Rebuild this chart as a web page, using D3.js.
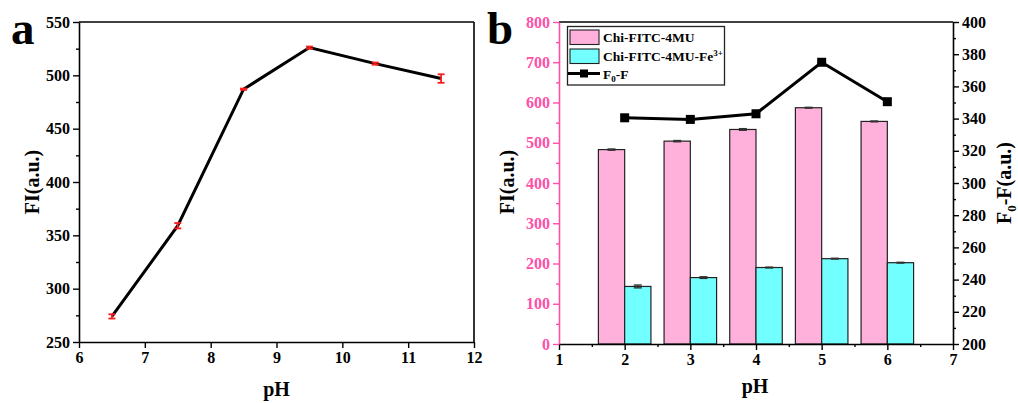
<!DOCTYPE html>
<html><head><meta charset="utf-8">
<script src="https://cdn.jsdelivr.net/npm/d3@7"></script>
<style>body{margin:0;background:#fff}svg{display:block}text{font-family:"Liberation Serif","Times New Roman",serif;font-weight:bold}</style>
</head><body><svg id="c" width="1018" height="403"></svg>
<script>
// Panel a data
const phA = [6.5, 7.5, 8.5, 9.5, 10.5, 11.5];
const fiA = [274, 359, 487, 526, 511, 497];
const errA = [2, 2.5, 0.6, 1, 1, 4];
const xTicksA = [6, 7, 8, 9, 10, 11, 12];
const yTicksA = [250, 300, 350, 400, 450, 500, 550];
// Panel b data
const phB = [2, 3, 4, 5, 6];
const fiPink = [483, 504, 533, 587, 553];
const errPink = [1.5, 1.5, 2, 1, 1];
const fiCyan = [143, 165, 190, 212, 202];
const errCyan = [3.5, 2, 1, 1, 1];
const f0f = [340.5, 339.5, 343, 375, 350.5];
const xTicksB = [1, 2, 3, 4, 5, 6, 7];
const yTicksBL = [0, 100, 200, 300, 400, 500, 600, 700, 800];
const yTicksBR = [200, 220, 240, 260, 280, 300, 320, 340, 360, 380, 400];
const seriesNames = ["Chi-FITC-4MU", "Chi-FITC-4MU-Fe", "F"];

const svg = d3.select("#c");
const PINK = "#ff4fa7";
const fmt = d3.format("d");

function styleAxis(g, color, fs) {
  g.attr("font-family", null).attr("font-size", null);
  g.selectAll("path").attr("stroke", color).attr("stroke-width", 1.6);
  g.selectAll("line").attr("stroke", color).attr("stroke-width", 1.4);
  g.selectAll("text").attr("fill", color).style("font-size", fs + "px")
    .style("font-family", '"Liberation Serif","Times New Roman",serif').style("font-weight", "bold");
}

// ---------------- Panel a ----------------
{
  const L = 79, R = 474, T = 22, B = 342;
  const x = d3.scaleLinear().domain([6, 12]).range([L, R]);
  const y = d3.scaleLinear().domain([250, 550]).range([B, T]);
  const g = svg.append("g");
  g.append("line").attr("x1", L).attr("x2", R).attr("y1", T).attr("y2", T).attr("stroke", "#000").attr("stroke-width", 1.6);
  g.append("line").attr("x1", R).attr("x2", R).attr("y1", T).attr("y2", B).attr("stroke", "#000").attr("stroke-width", 1.6);
  g.append("g").attr("transform", `translate(${L},0)`)
    .call(d3.axisLeft(y).tickValues(d3.range(275, 550, 50)).tickSize(3).tickFormat(""))
    .call(s => { s.select("path").remove(); s.selectAll("line").attr("stroke", "#000").attr("stroke-width", 1.4); });
  const gx = g.append("g").attr("transform", `translate(0,${B})`)
    .call(d3.axisBottom(x).tickValues(xTicksA).tickFormat(fmt).tickSize(6).tickPadding(4).tickSizeOuter(0));
  styleAxis(gx, "#000", 16);
  const gy = g.append("g").attr("transform", `translate(${L},0)`)
    .call(d3.axisLeft(y).tickValues(yTicksA).tickFormat(fmt).tickSize(6).tickPadding(3).tickSizeOuter(0));
  styleAxis(gy, "#000", 16);
  const line = d3.line().x((d, i) => x(phA[i])).y(d => y(d));
  g.append("path").datum(fiA).attr("d", line).attr("fill", "none").attr("stroke", "#000").attr("stroke-width", 3);
  const eb = g.append("g").attr("stroke", "#ff1a1a").attr("stroke-width", 1.8);
  fiA.forEach((v, i) => {
    const cx = x(phA[i]), y1 = y(v - errA[i]), y2 = y(v + errA[i]);
    eb.append("line").attr("x1", cx).attr("x2", cx).attr("y1", y1).attr("y2", y2);
    eb.append("line").attr("x1", cx - 3.5).attr("x2", cx + 3.5).attr("y1", y1).attr("y2", y1);
    eb.append("line").attr("x1", cx - 3.5).attr("x2", cx + 3.5).attr("y1", y2).attr("y2", y2);
  });
  g.append("text").attr("x", (L + R) / 2).attr("y", 396).attr("text-anchor", "middle").style("font-size", "20px").text("pH");
  g.append("text").attr("transform", `translate(39,182) rotate(-90)`).attr("text-anchor", "middle").style("font-size", "20px").text("FI(a.u.)");
  g.append("text").attr("x", 11).attr("y", 44).style("font-size", "47px").text("a");
}

// ---------------- Panel b ----------------
{
  const L = 559, R = 953, T = 22, B = 344;
  const x = d3.scaleLinear().domain([1, 7]).range([L, R]);
  const y = d3.scaleLinear().domain([0, 800]).range([B, T]);
  const y2 = d3.scaleLinear().domain([200, 400]).range([B, T]);
  const g = svg.append("g");
  const bw = x(1.4) - x(1);
  g.append("g").selectAll("rect").data(fiPink).join("rect")
    .attr("x", (d, i) => x(phB[i]) - bw).attr("y", d => y(d)).attr("width", bw).attr("height", d => B - y(d))
    .attr("fill", "#ffb1dc").attr("stroke", "#222").attr("stroke-width", 1.2);
  g.append("g").selectAll("rect").data(fiCyan).join("rect")
    .attr("x", (d, i) => x(phB[i])).attr("y", d => y(d)).attr("width", bw).attr("height", d => B - y(d))
    .attr("fill", "#72ffff").attr("stroke", "#222").attr("stroke-width", 1.2);
  const eb = g.append("g").attr("stroke", "#333").attr("stroke-width", 1.4);
  function ebar(cx, v, e) {
    const a = y(v - e), b = y(v + e);
    eb.append("line").attr("x1", cx).attr("x2", cx).attr("y1", a).attr("y2", b);
    eb.append("line").attr("x1", cx - 4).attr("x2", cx + 4).attr("y1", a).attr("y2", a);
    eb.append("line").attr("x1", cx - 4).attr("x2", cx + 4).attr("y1", b).attr("y2", b);
  }
  fiPink.forEach((v, i) => ebar(x(phB[i]) - bw / 2, v, errPink[i]));
  fiCyan.forEach((v, i) => ebar(x(phB[i]) + bw / 2, v, errCyan[i]));
  const line = d3.line().x((d, i) => x(phB[i])).y(d => y2(d));
  g.append("path").datum(f0f).attr("d", line).attr("fill", "none").attr("stroke", "#000").attr("stroke-width", 3);
  g.append("g").selectAll("rect").data(f0f).join("rect")
    .attr("x", (d, i) => x(phB[i]) - 4.5).attr("y", d => y2(d) - 4.5).attr("width", 9).attr("height", 9).attr("fill", "#000");
  g.append("line").attr("x1", L).attr("x2", R).attr("y1", T).attr("y2", T).attr("stroke", "#000").attr("stroke-width", 1.6);
  g.append("g").attr("transform", `translate(0,${B})`)
    .call(d3.axisBottom(x).tickValues(d3.range(1.5, 7, 1)).tickSize(3).tickFormat(""))
    .call(s => { s.select("path").remove(); s.selectAll("line").attr("stroke", "#000").attr("stroke-width", 1.4); });
  g.append("g").attr("transform", `translate(${L},0)`)
    .call(d3.axisLeft(y).tickValues(d3.range(50, 800, 100)).tickSize(3).tickFormat(""))
    .call(s => { s.select("path").remove(); s.selectAll("line").attr("stroke", PINK).attr("stroke-width", 1.4); });
  g.append("g").attr("transform", `translate(${R},0)`)
    .call(d3.axisRight(y2).tickValues(d3.range(210, 400, 20)).tickSize(3).tickFormat(""))
    .call(s => { s.select("path").remove(); s.selectAll("line").attr("stroke", "#000").attr("stroke-width", 1.4); });
  const gx = g.append("g").attr("transform", `translate(0,${B})`)
    .call(d3.axisBottom(x).tickValues(xTicksB).tickFormat(fmt).tickSize(6).tickPadding(4).tickSizeOuter(0));
  styleAxis(gx, "#000", 16);
  const gr = g.append("g").attr("transform", `translate(${R},0)`)
    .call(d3.axisRight(y2).tickValues(yTicksBR).tickFormat(fmt).tickSize(6).tickPadding(3).tickSizeOuter(0));
  styleAxis(gr, "#000", 16);
  const gl = g.append("g").attr("transform", `translate(${L},0)`)
    .call(d3.axisLeft(y).tickValues(yTicksBL).tickFormat(fmt).tickSize(6).tickPadding(3).tickSizeOuter(0));
  styleAxis(gl, PINK, 16);
  g.append("text").attr("x", (L + R) / 2 - 1).attr("y", 393).attr("text-anchor", "middle").style("font-size", "20px").text("pH");
  g.append("text").attr("transform", `translate(514,182) rotate(-90)`).attr("text-anchor", "middle").style("font-size", "20px").text("FI(a.u.)");
  const rt = g.append("text").attr("transform", `translate(1011,183) rotate(-90)`).attr("text-anchor", "middle").style("font-size", "20px");
  rt.append("tspan").text("F");
  rt.append("tspan").attr("dy", 5).style("font-size", "13px").text("0");
  rt.append("tspan").attr("dy", -5).text("-F(a.u.)");
  g.append("text").attr("x", 487).attr("y", 44).style("font-size", "47px").text("b");
  const lg = g.append("g");
  lg.append("rect").attr("x", 567.5).attr("y", 26.5).attr("width", 157).attr("height", 58.5)
    .attr("fill", "#fff").attr("stroke", "#222").attr("stroke-width", 1.3);
  lg.append("rect").attr("x", 570).attr("y", 30).attr("width", 29).attr("height", 14.5).attr("fill", "#ffb1dc").attr("stroke", "#222").attr("stroke-width", 1.1);
  lg.append("rect").attr("x", 570).attr("y", 49).attr("width", 29).attr("height", 14.5).attr("fill", "#72ffff").attr("stroke", "#222").attr("stroke-width", 1.1);
  lg.append("line").attr("x1", 568).attr("x2", 600).attr("y1", 73.5).attr("y2", 73.5).attr("stroke", "#000").attr("stroke-width", 3);
  lg.append("rect").attr("x", 580).attr("y", 69.5).attr("width", 8).attr("height", 8).attr("fill", "#000");
  lg.append("text").attr("x", 603).attr("y", 41.5).style("font-size", "13.5px").text(seriesNames[0]);
  const t2 = lg.append("text").attr("x", 603).attr("y", 60.5).style("font-size", "13.5px");
  t2.append("tspan").text(seriesNames[1]);
  t2.append("tspan").attr("dy", -5).style("font-size", "9px").text("3+");
  const t3 = lg.append("text").attr("x", 603).attr("y", 78.5).style("font-size", "13.5px");
  t3.append("tspan").text(seriesNames[2]);
  t3.append("tspan").attr("dy", 3).style("font-size", "9px").text("0");
  t3.append("tspan").attr("dy", -3).text("-F");
}
</script></body></html>
